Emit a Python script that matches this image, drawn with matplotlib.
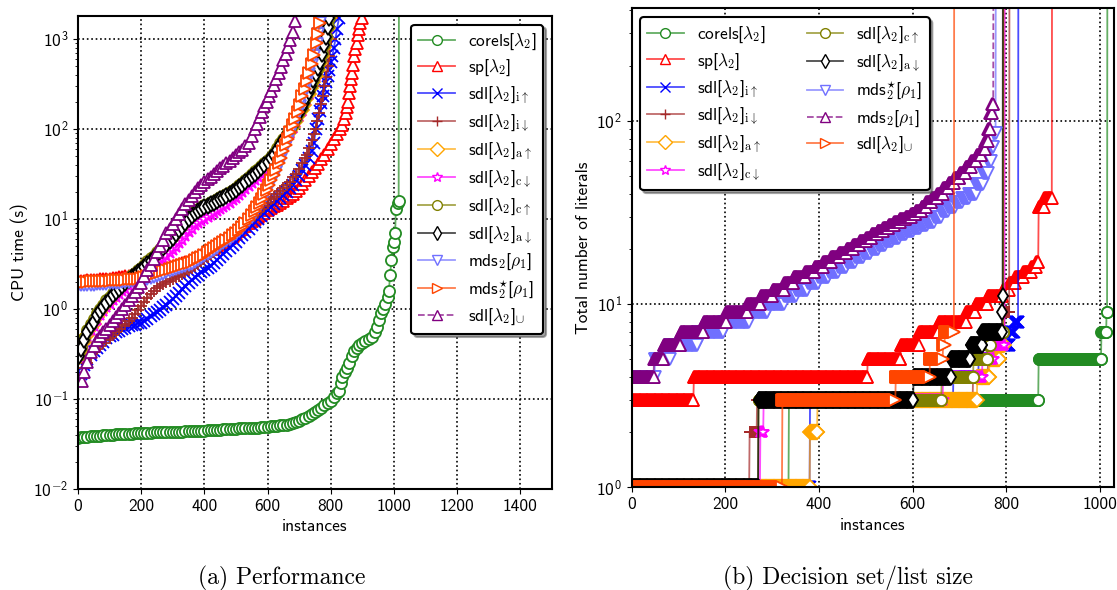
import numpy as np
import matplotlib
matplotlib.use('Agg')
import matplotlib.pyplot as plt
from matplotlib.colors import to_rgba
from matplotlib.ticker import FuncFormatter, NullFormatter

plt.rcParams['font.family'] = ['cmss10', 'DejaVu Sans']
plt.rcParams['mathtext.fontset'] = 'custom'
plt.rcParams['mathtext.rm'] = 'cmss10'
plt.rcParams['mathtext.it'] = 'cmmi10'
plt.rcParams['mathtext.bf'] = 'cmb10'
plt.rcParams['mathtext.sf'] = 'cmss10'
plt.rcParams['mathtext.tt'] = 'cmr10'
plt.rcParams['axes.unicode_minus'] = False

TO = 1e4  # timeout / no answer

# ---------------- (a) CPU time per instance (sorted) ----------------
inst_corels = list(range(0, 821, 10)) + [826, 832, 837, 845, 852, 858, 866, 874, 882, 890, 900,
                                         910, 920, 931, 940, 947, 953, 958, 965, 973, 980, 984,
                                         988, 992, 996, 1000, 1004, 1006, 1012, 1015, 1016]
time_corels = [.037, .0375, .038, .038, .0385, .039, .039, .039, .0395, .040,
               .040, .040, .0405, .0405, .041, .041, .041, .041, .0415, .042,
               .042, .042, .042, .042, .0425, .0425, .043, .043, .043, .043,
               .043, .0435, .0435, .0435, .044, .044, .044, .044, .0445, .0445,
               .0445, .045, .045, .045, .0455, .0455, .046, .046, .046, .0465,
               .0465, .047, .047, .047, .0475, .0475, .048, .048, .0485, .049,
               .049, .0495, .050, .0505, .051, .0515, .052, .053, .054, .0555,
               .057, .0595, .062, .065, .068, .072, .076, .080, .085, .090,
               .096, .105, .117,
               .124, .15, .175, .2, .22, .25, .3, .34, .37, .4, .42, .44, .46, .49, .55, .63, .75,
               .9, 1.0, 1.15, 1.35, 1.6, 2.4, 3.5, 4.9, 5.5, 7.0, 13, 15, 15.8, TO]

inst_sp = list(range(0, 831, 10)) + [837, 843, 848, 852, 856, 859, 862, 864, 866, 870, 874, 878,
                                     882, 886, 890, 894, 898]
time_sp = [2.05, 2.06, 2.07, 2.08, 2.1, 2.11, 2.12, 2.13, 2.15, 2.16,
           2.18, 2.2, 2.22, 2.24, 2.27, 2.3, 2.33, 2.36, 2.4, 2.42,
           2.45, 2.5, 2.55, 2.6, 2.65, 2.7, 2.75, 2.8, 2.88, 2.94,
           3.0, 3.07, 3.15, 3.22, 3.3, 3.4, 3.5, 3.65, 3.8, 4.0,
           4.2, 4.4, 4.6, 4.8, 5.0, 5.3, 5.6, 5.9, 6.2, 6.5,
           6.8, 7.3, 7.8, 8.4, 9.0, 9.5, 10.0, 10.6, 11.2, 11.8,
           12.5, 13.1, 13.8, 14.4, 15, 16, 17, 18, 19, 20.5,
           22, 24.5, 27, 30, 33, 37, 41, 46, 52, 60,
           68, 78, 88, 100,
           110, 130, 150, 175, 200, 250, 300, 360, 420, 520, 650, 770, 900, 1100, 1300, 1500, 1700]

inst_iup = list(range(10, 741, 10)) + [747, 753, 759, 765, 770, 775, 780, 785, 790, 795, 800,
                                       805, 810, 815, 820, 826]
time_iup = [.19, .24, .28, .31, .34, .37, .4, .43, .47, .5,
            .52, .55, .57, .6, .62, .64, .66, .67, .69, .7,
            .74, .78, .83, .88, .93, .98, 1.04, 1.1, 1.2, 1.3,
            1.4, 1.5, 1.65, 1.8, 1.95, 2.1, 2.25, 2.4, 2.55, 2.7,
            2.85, 3.0, 3.25, 3.5, 3.8, 4.1, 4.45, 4.8, 5.2, 5.6,
            6.1, 6.6, 7.2, 7.8, 8.5, 9.2, 10.0, 10.8, 11.6, 12.5,
            13.5, 14.5, 15.7, 17, 18.5, 20, 22, 24, 27, 30,
            35, 40, 48, 57,
            70, 100, 130, 160, 195, 230, 280, 330, 390, 450, 550, 650, 800, 1000, 1300, 1700]

inst_idn = list(range(20, 711, 10)) + [718, 725, 732, 740, 746, 752, 758, 764, 770, 775, 780,
                                       785, 790, 795, 800, 805]
time_idn = [.22, .25, .29, .33, .36, .39, .42, .45, .48, .52,
            .56, .6, .64, .68, .74, .8, .88, .98, 1.08, 1.2,
            1.32, 1.45, 1.58, 1.7, 1.8, 1.9, 1.98, 2.05, 2.15, 2.25,
            2.35, 2.45, 2.57, 2.7, 2.85, 3.0, 3.2, 3.4, 3.6, 3.8,
            4.05, 4.3, 4.6, 4.9, 5.3, 5.7, 6.1, 6.6, 7.1, 7.6,
            8.2, 8.8, 9.5, 10.2, 11.1, 12, 13, 14, 15.2, 16.5,
            17.7, 19, 20.5, 22, 24, 26, 29, 32, 36, 42,
            47, 52, 62, 75, 87, 100, 122, 150, 190, 230, 300, 380, 500, 650, 1000, 1700]

inst_sdl = [3] + list(range(10, 701, 10)) + [708, 715, 722, 730, 737, 745, 752, 760, 766, 772,
                                             778, 784, 790, 795]
time_aup = [.29, .34, .43, .52, .61, .68, .81, .9, 1.0, 1.12, 1.24,
            1.35, 1.47, 1.6, 1.71, 1.85, 2.0, 2.14, 2.28, 2.42, 2.57,
            2.8, 3.04, 3.28, 3.5, 3.85, 4.18, 4.55, 4.94, 5.4, 5.9,
            6.45, 7.1, 7.8, 8.55, 9.4, 10.3, 11, 11.7, 12.3, 12.8,
            13.3, 13.8, 14.3, 15, 15.7, 16.3, 17.1, 17.9, 18.9, 20,
            21.4, 22.8, 24.7, 26.6, 28.5, 30.4, 32.8, 35.2, 38, 40.9,
            44.7, 49.4, 55, 62.7, 71, 81, 92, 105, 122, 143,
            162, 185, 214, 247, 285, 333, 390, 450, 535, 650, 820, 1020, 1320, 1700]
time_cdn = [.29, .34, .42, .5, .58, .65, .76, .85, .94, 1.05, 1.15,
            1.25, 1.36, 1.47, 1.57, 1.68, 1.8, 1.92, 2.03, 2.15, 2.25,
            2.42, 2.6, 2.78, 2.95, 3.15, 3.35, 3.6, 3.85, 4.15, 4.5,
            4.9, 5.4, 5.9, 6.5, 7.1, 7.8, 8.5, 9.1, 9.6, 10.1,
            10.6, 11.1, 11.7, 12.3, 12.9, 13.6, 14.4, 15.2, 16.2, 17.2,
            18.5, 19.8, 21.5, 23.2, 25, 27, 29.3, 31.7, 34.5, 37.5,
            41.5, 46.5, 53, 60, 69, 79, 90, 103, 120, 141,
            160, 183, 212, 245, 283, 330, 388, 448, 532, 650, 820, 1020, 1320, 1700]
time_cup = [.31, .38, .48, .58, .68, .77, .9, 1.0, 1.11, 1.25, 1.37,
            1.5, 1.64, 1.78, 1.9, 2.06, 2.22, 2.38, 2.54, 2.7, 2.86,
            3.12, 3.38, 3.65, 3.9, 4.28, 4.65, 5.07, 5.5, 6.0, 6.55,
            7.2, 7.9, 8.65, 9.5, 10.4, 11.4, 12.2, 13, 13.6, 14.2,
            14.8, 15.3, 15.9, 16.7, 17.4, 18.1, 19, 19.8, 21, 22.1,
            23.7, 25.3, 27.4, 29.5, 31.6, 33.7, 36.3, 39, 42, 45,
            49, 54, 61, 69, 78, 89, 101, 115, 133, 156,
            177, 202, 232, 268, 310, 362, 425, 490, 580, 700, 870, 1080, 1380, 1700]
time_adn = [.3, .36, .45, .55, .64, .72, .85, .95, 1.05, 1.18, 1.3,
            1.42, 1.55, 1.68, 1.8, 1.95, 2.1, 2.25, 2.4, 2.55, 2.7,
            2.95, 3.2, 3.45, 3.7, 4.05, 4.4, 4.8, 5.2, 5.7, 6.2,
            6.8, 7.5, 8.2, 9.0, 9.9, 10.8, 11.6, 12.3, 12.9, 13.5,
            14, 14.5, 15.1, 15.8, 16.5, 17.2, 18, 18.8, 19.9, 21,
            22.5, 24, 26, 28, 30, 32, 34.5, 37, 40, 43,
            47, 52, 58, 66, 75, 85, 97, 110, 128, 150,
            170, 195, 225, 260, 300, 350, 410, 470, 560, 680, 850, 1050, 1350, 1700]

inst_mds = list(range(0, 561, 10)) + [567, 575, 582, 590, 597, 605, 612, 620, 627, 635, 642, 650,
                                      657, 665, 672, 680, 687, 695, 702, 710, 717, 725, 732, 740,
                                      747, 755, 760, 765]
time_mds = [1.85, 1.85, 1.86, 1.86, 1.87, 1.87, 1.88, 1.89, 1.9, 1.91,
            1.92, 1.93, 1.94, 1.95, 1.97, 1.98, 2.0, 2.02, 2.04, 2.06,
            2.08, 2.11, 2.15, 2.21, 2.27, 2.33, 2.4, 2.47, 2.55, 2.62,
            2.7, 2.77, 2.85, 2.92, 3.0, 3.1, 3.2, 3.35, 3.5, 3.67,
            3.85, 4.05, 4.3, 4.55, 4.8, 5.1, 5.4, 5.7, 6.0, 6.4,
            6.8, 7.4, 8.0, 8.8, 9.7, 10.6, 11.8,
            12.9, 14.3, 16, 18, 20, 23, 26, 29.5, 33.5, 40, 46, 55, 64, 75, 89, 106, 126, 150,
            180, 222, 268, 330, 410, 515, 655, 880, 1130, 1500]
time_mds_star = [2.0, 2.0, 2.0, 2.01, 2.02, 2.02, 2.03, 2.04, 2.05, 2.06,
                 2.07, 2.08, 2.09, 2.1, 2.11, 2.12, 2.14, 2.15, 2.17, 2.18,
                 2.2, 2.25, 2.3, 2.36, 2.42, 2.48, 2.55, 2.62, 2.7, 2.77,
                 2.85, 2.92, 3.0, 3.07, 3.15, 3.25, 3.35, 3.5, 3.65, 3.82,
                 4.0, 4.25, 4.5, 4.75, 5.0, 5.3, 5.6, 5.9, 6.2, 6.6,
                 7.0, 7.6, 8.2, 9.0, 10.0, 11.1, 12.4,
                 13.5, 15, 16.8, 19, 21, 24, 27, 31, 35, 42, 48, 57, 66, 78, 92, 110, 130, 155,
                 185, 230, 275, 340, 420, 530, 670, 900, 1150, 1500]

inst_union = [12, 20] + list(range(30, 561, 10)) + [567, 575, 582, 590, 597, 605, 612, 620, 627,
                                                    635, 642, 650, 657, 665, 672, 680, 688]
time_union = [.16, .2, .26, .33, .39, .45, .5, .55, .6, .66,
              .74, .82, .91, 1.0, 1.12, 1.25, 1.4, 1.55, 1.75, 1.95,
              2.3, 2.7, 3.1, 3.6, 4.25, 5.0, 5.9, 6.9, 7.8, 8.8,
              10.1, 11.5, 13, 14.5, 16.2, 18, 20, 22, 24, 26,
              27.8, 29.5, 31.7, 34, 36.5, 39, 41.5, 44, 47.5, 51,
              55, 59, 64, 70, 83, 100,
              115, 135, 155, 180, 200, 230, 265, 310, 355, 420, 490, 580, 680, 820, 980, 1200, 1600]

# ---------------- (b) literals: level and last instance of each step ----------------
lit_corels = [1, 3, 5, 7, 9, TO]
end_corels = [335, 868, 1002, 1013, 1015, 1016]
lit_sp = [3, 4, 5, 6, 7, 8, 9, 10, 11, 12, 13, 14, 15, 16, 17, 34, 38, TO]
end_sp = [132, 503, 574, 613, 655, 713, 734, 759, 791, 805, 818, 835, 852, 863, 868, 880, 897, 898]
lit_iup = [1, 3, 4, 5, 6, 7, 8, TO]
end_iup = [380, 686, 740, 775, 806, 816, 825, 826]
lit_idn = [1, 2, 3, 4, 5, 7, 9, TO]
end_idn = [251, 267, 728, 760, 780, 795, 806, 807]
lit_aup = [1, 2, 3, 4, 5, 6, TO]
end_aup = [380, 396, 737, 763, 785, 794, 795]
lit_cdn = [1, 2, 3, 4, 5, 6, TO]
end_cdn = [274, 281, 664, 748, 772, 796, 797]
lit_cup = [1, 3, 4, 5, 6, 7, TO]
end_cup = [270, 661, 729, 759, 765, 793, 794]
lit_adn = [1, 3, 4, 5, 6, 7, 9, 11, TO]
end_adn = [270, 601, 681, 723, 748, 790, 791, 792, 793]
lit_mds_star = [4, 5, 6, 7, 8, 9, 10, 11, 12, 13, 14, 15, 16, 17, 18, 19, 20, 21, 22, 23, 24, 25,
                26, 27, 28, 30, 32, 34, 36, 38, 40, 45, 52, 60, 72, 86, TO]
end_mds_star = [49, 82, 140, 196, 250, 290, 325, 350, 375, 398, 420, 440, 458, 476, 494, 510, 526,
                540, 555, 570, 585, 600, 615, 630, 645, 660, 675, 690, 705, 720, 735, 750, 760,
                767, 772, 777, 778]
lit_mds = [4, 5, 6, 7, 8, 9, 10, 11, 12, 13, 14, 15, 16, 17, 18, 19, 20, 21, 22, 23, 24, 25, 26,
           27, 28, 29, 30, 31, 32, 34, 36, 38, 40, 43, 46, 49, 52, 56, 60, 65, 70, 78, 90, 110,
           124, TO]
end_mds = [47, 68, 104, 153, 201, 246, 275, 300, 325, 345, 370, 390, 408, 425, 442, 458, 472, 486,
           500, 512, 524, 536, 548, 560, 572, 584, 596, 606, 618, 628, 640, 652, 664, 676, 688,
           700, 712, 724, 736, 746, 754, 760, 765, 769, 772, 773]
lit_union = [1, 3, 4, 5, 6, 7, TO]
end_union = [321, 563, 636, 664, 668, 688, 689]


def steps(levels, ends):
    counts = np.diff(np.concatenate([[-1], ends]))
    return np.arange(ends[-1] + 1), np.repeat(levels, counts)


def curve(ax, x, y, color, marker, label, ls='-', ms=8, mew=1.3):
    ax.plot(x, y, linestyle=ls, color=to_rgba(color, 0.7), marker=marker, ms=ms,
            mec=color, mfc='white', mew=mew, lw=1.3, label=label)


L2 = r'[$\lambda_{\mathtt{2}}$]'
lab_corels = 'corels' + L2
lab_sp = 'sp' + L2
lab_iup = 'sdl' + L2 + r'$_{\mathtt{i}\uparrow}$'
lab_idn = 'sdl' + L2 + r'$_{\mathtt{i}\downarrow}$'
lab_aup = 'sdl' + L2 + r'$_{\mathtt{a}\uparrow}$'
lab_cdn = 'sdl' + L2 + r'$_{\mathtt{c}\downarrow}$'
lab_cup = 'sdl' + L2 + r'$_{\mathtt{c}\uparrow}$'
lab_adn = 'sdl' + L2 + r'$_{\mathtt{a}\downarrow}$'
lab_mds = r'mds$_{\mathtt{2}}$[$\rho_{\mathtt{1}}$]'
lab_mds_star = r'mds$_{\mathtt{2}}^{\star}$[$\rho_{\mathtt{1}}$]'
lab_union = 'sdl' + L2 + r'$_{\cup}$'

c_green, c_lblue = 'forestgreen', '#7070ff'

fig = plt.figure(figsize=(11.17, 5.9), dpi=100)
ax1 = fig.add_axes([0.0698, 0.1712, 0.4243, 0.8017])
ax2 = fig.add_axes([0.5654, 0.1741, 0.4320, 0.8115])

# (a)
curve(ax1, inst_corels, time_corels, c_green, 'o', lab_corels)
curve(ax1, inst_sp, time_sp, 'red', '^', lab_sp)
curve(ax1, inst_iup, time_iup, 'blue', 'x', lab_iup)
curve(ax1, inst_idn, time_idn, 'brown', '+', lab_idn, ms=9)
curve(ax1, inst_sdl, time_aup, 'orange', 'D', lab_aup, ms=7)
curve(ax1, inst_sdl, time_cdn, 'magenta', '*', lab_cdn, ms=9)
curve(ax1, inst_sdl, time_cup, 'olive', 'o', lab_cup)
curve(ax1, inst_sdl, time_adn, 'black', 'd', lab_adn)
curve(ax1, inst_mds, time_mds, c_lblue, 'v', lab_mds)
curve(ax1, inst_mds, time_mds_star, 'orangered', '>', lab_mds_star)
curve(ax1, inst_union, time_union, 'purple', '^', lab_union, ls='--')

ax1.set_yscale('log')
ax1.set_xlim(0, 1500)
ax1.set_ylim(1e-2, 1800)
ax1.set_xticks(range(0, 1401, 200))
ax1.set_xlabel('instances', fontsize=12.5)
ax1.set_ylabel('CPU time (s)', fontsize=12.5)

# (b)
curve(ax2, *steps(lit_corels, end_corels), c_green, 'o', lab_corels)
curve(ax2, *steps(lit_sp, end_sp), 'red', '^', lab_sp)
curve(ax2, *steps(lit_iup, end_iup), 'blue', 'x', lab_iup)
curve(ax2, *steps(lit_idn, end_idn), 'brown', '+', lab_idn, ms=9)
curve(ax2, *steps(lit_aup, end_aup), 'orange', 'D', lab_aup, ms=7)
curve(ax2, *steps(lit_cdn, end_cdn), 'magenta', '*', lab_cdn, ms=9)
curve(ax2, *steps(lit_cup, end_cup), 'olive', 'o', lab_cup)
curve(ax2, *steps(lit_adn, end_adn), 'black', 'd', lab_adn)
curve(ax2, *steps(lit_mds_star, end_mds_star), c_lblue, 'v', lab_mds_star)
curve(ax2, *steps(lit_mds, end_mds), 'purple', '^', lab_mds, ls='--')
curve(ax2, *steps(lit_union, end_union), 'orangered', '>', lab_union)

ax2.set_yscale('log')
ax2.set_xlim(0, 1030)
ax2.set_ylim(1, 410)
ax2.set_xticks(range(0, 1001, 200))
ax2.set_xlabel('instances', fontsize=12.5)
ax2.set_ylabel('Total number of literals', fontsize=12.5)

for ax in (ax1, ax2):
    ax.grid(True, which='major', color='k', linestyle=':', linewidth=1.2)
    ax.tick_params(labelsize=12.5)
    ax.yaxis.set_major_formatter(FuncFormatter(lambda v, p: r'$10^{%d}$' % round(np.log10(v))))
    ax.yaxis.set_minor_formatter(NullFormatter())
    for s in ax.spines.values():
        s.set_linewidth(1.5)

leg_kw = dict(fontsize=12.5, shadow=True, fancybox=True, framealpha=1, edgecolor='k',
              handlelength=2.1, handletextpad=0.75, labelspacing=0.35, borderpad=0.4)
leg1 = ax1.legend(loc='upper right', **leg_kw)
leg2 = ax2.legend(loc='upper left', ncol=2, columnspacing=2.4, **leg_kw)
for leg in (leg1, leg2):
    leg.get_frame().set_linewidth(1.5)
    for h in leg.legend_handles:
        h.set_markersize(7)
        h.set_markeredgewidth(1.0)

fig.text(0.2525, 0.02, '(a) Performance', ha='center', va='center', family='cmr10', fontsize=17)
fig.text(0.759, 0.02, '(b) Decision set/list size', ha='center', va='center', family='cmr10',
         fontsize=17)

fig.savefig('out.png', dpi=100)
